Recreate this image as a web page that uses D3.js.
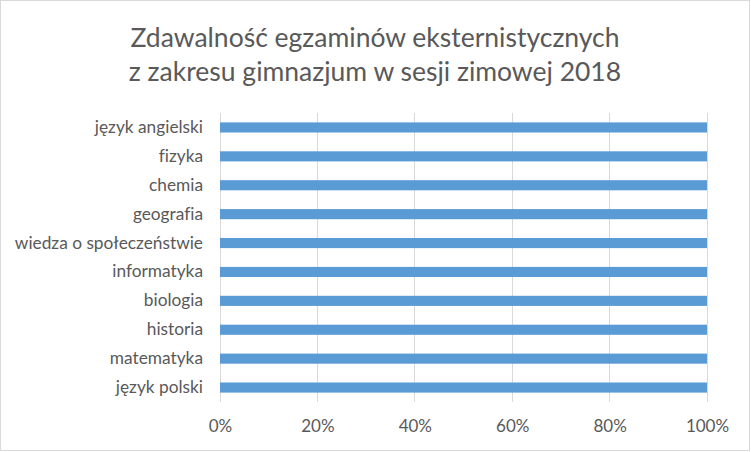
<!DOCTYPE html>
<html><head><meta charset="utf-8">
<script src="https://cdn.jsdelivr.net/npm/d3@7"></script>
<style>body{margin:0;background:#fff}svg{display:block}text{font-variant-ligatures:none;font-feature-settings:"liga" 0}</style>
</head><body>
<script>
const categories = ["język angielski","fizyka","chemia","geografia","wiedza o społeczeństwie","informatyka","biologia","historia","matematyka","język polski"];
const values = [1,1,1,1,1,1,1,1,1,1];
const ticks = [0,0.2,0.4,0.6,0.8,1];
const titleLines = ["Zdawalność egzaminów eksternistycznych","z zakresu gimnazjum w sesji zimowej 2018"];

const W=751,H=452;
const svg=d3.select("body").append("svg").attr("width",W).attr("height",H);
svg.append("rect").attr("x",0.5).attr("y",0.5).attr("width",W-2).attr("height",H-2)
  .attr("fill","#fff").attr("stroke","#d9d9d9").attr("stroke-width",1);
const font="Lato, Open Sans, sans-serif";
svg.append("g").selectAll("text").data(titleLines).join("text")
  .attr("x",375).attr("y",(d,i)=>47+i*34).attr("text-anchor","middle")
  .attr("font-family",font).attr("font-size",26.5).attr("fill","#595959").text(d=>d);

const x=d3.scaleLinear().domain([0,1]).range([220,707]);
const y=d3.scaleBand().domain(categories).range([113,402]).paddingInner(0.65).paddingOuter(0.325);

svg.append("g").selectAll("line").data(ticks).join("line")
  .attr("x1",d=>x(d)).attr("x2",d=>x(d)).attr("y1",113).attr("y2",402)
  .attr("stroke","#d9d9d9").attr("stroke-width",1).attr("shape-rendering","crispEdges");

svg.append("g").selectAll("rect").data(categories).join("rect")
  .attr("x",x(0)).attr("y",d=>y(d)).attr("width",(d,i)=>x(values[i])-x(0)).attr("height",y.bandwidth())
  .attr("fill","#5b9bd5");

const ax=svg.append("g").attr("transform","translate(0,402)")
  .call(d3.axisBottom(x).tickValues(ticks).tickFormat(d3.format(".0%")).tickSize(0).tickPadding(18));
ax.select(".domain").remove();
ax.selectAll("text").attr("font-family",font).attr("font-size",17).attr("fill","#595959");

const ay=svg.append("g").attr("transform","translate(220,0)")
  .call(d3.axisLeft(y).tickSize(0).tickPadding(17));
ay.select(".domain").remove();
ay.selectAll("text").attr("font-family",font).attr("font-size",17.3).attr("fill","#595959");
</script>
</body></html>
